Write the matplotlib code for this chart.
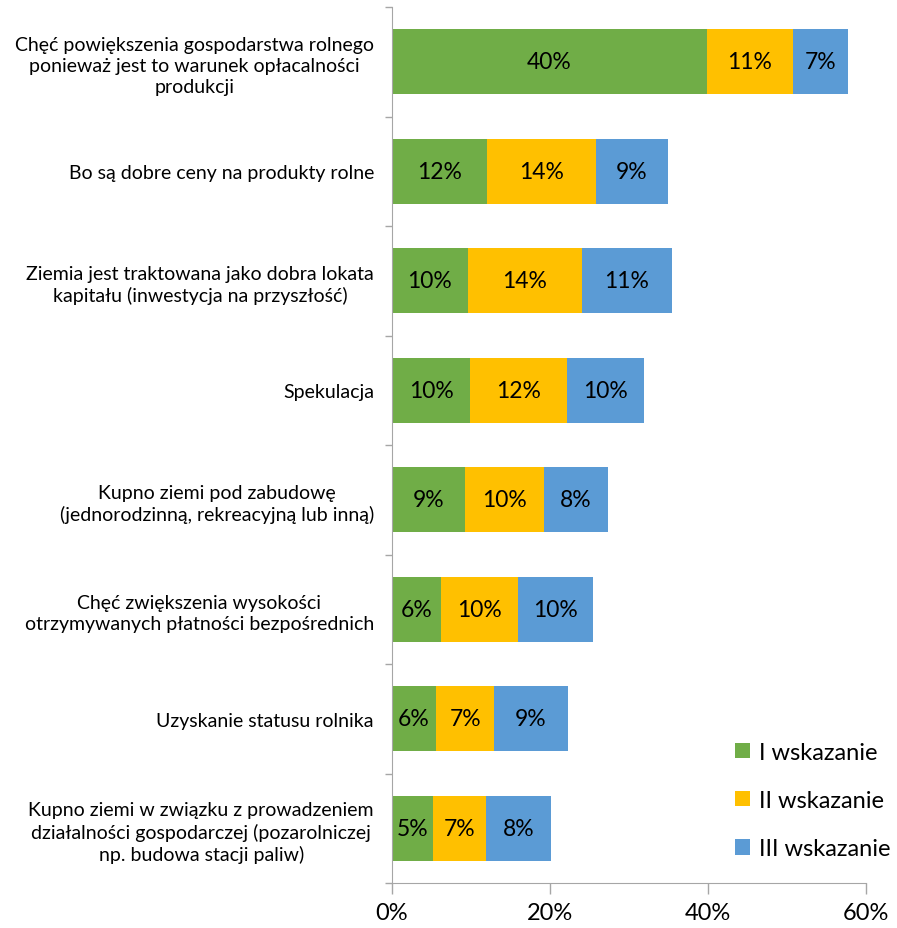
import matplotlib
matplotlib.use("Agg")
import matplotlib.pyplot as plt
import numpy as np

plt.rcParams['font.family'] = ['Lato', 'DejaVu Sans']

categories = [
    "Chęć powiększenia gospodarstwa rolnego\nponieważ jest to warunek opłacalności\nprodukcji",
    "Bo są dobre ceny na produkty rolne",
    "Ziemia jest traktowana jako dobra lokata\nkapitału (inwestycja na przyszłość)",
    "Spekulacja",
    "Kupno ziemi pod zabudowę\n(jednorodzinną, rekreacyjną lub inną)",
    "Chęć zwiększenia wysokości\notrzymywanych płatności bezpośrednich",
    "Uzyskanie statusu rolnika",
    "Kupno ziemi w związku z prowadzeniem\ndziałalności gospodarczej (pozarolniczej\nnp. budowa stacji paliw)",
]
series_names = ["I wskazanie", "II wskazanie", "III wskazanie"]
first = [39.9, 12.0, 9.6, 9.9, 9.2, 6.2, 5.6, 5.2]
second = [10.8, 13.8, 14.4, 12.3, 10.0, 9.7, 7.3, 6.7]
third = [7.0, 9.1, 11.4, 9.7, 8.2, 9.6, 9.4, 8.2]
xticks = [0, 20, 40, 60]
colors = ["#70AD47", "#FFC000", "#5B9BD5"]

fig = plt.figure(figsize=(8.97, 9.29), dpi=100)
ax = fig.add_axes([392/897, 1-884/929, (866-392)/897, (884-8)/929])

y = np.arange(len(categories))
left = np.zeros(len(categories))
for vals, name, c in zip([first, second, third], series_names, colors):
    vals = np.array(vals)
    ax.barh(y, vals, left=left, height=0.59, color=c, label=name)
    for yi, l, v in zip(y, left, vals):
        ax.text(l + v/2, yi, f"{v:.0f}%", ha='center', va='center', fontsize=16.5, color='black')
    left = left + vals

ax.set_ylim(len(categories)-0.5, -0.5)
ax.set_xlim(0, 60)
ax.set_xticks(xticks)
ax.set_xticklabels([f"{t}%" for t in xticks], fontsize=17)
ax.set_yticks(y)
ax.set_yticklabels(categories, fontsize=14, ha='right', multialignment='center', linespacing=1.3)
ax.set_yticks(np.arange(len(categories)+1)-0.5, minor=True)
ax.tick_params(axis='y', which='major', length=0, pad=13)
ax.tick_params(axis='y', which='minor', length=5, color='#A6A6A6', width=1)
ax.tick_params(axis='x', length=8, color='#A6A6A6', width=1, pad=6)
for s in ['top', 'right']:
    ax.spines[s].set_visible(False)
for s in ['left', 'bottom']:
    ax.spines[s].set_color('#A6A6A6')

leg = ax.legend(loc='lower left', bbox_to_anchor=(735/897, 1-860/929), bbox_transform=fig.transFigure,
                frameon=False, fontsize=17, borderpad=0, borderaxespad=0,
                handlelength=0.65, handleheight=0.65, labelspacing=1.15, handletextpad=0.35)

fig.savefig("out.png", dpi=100)
